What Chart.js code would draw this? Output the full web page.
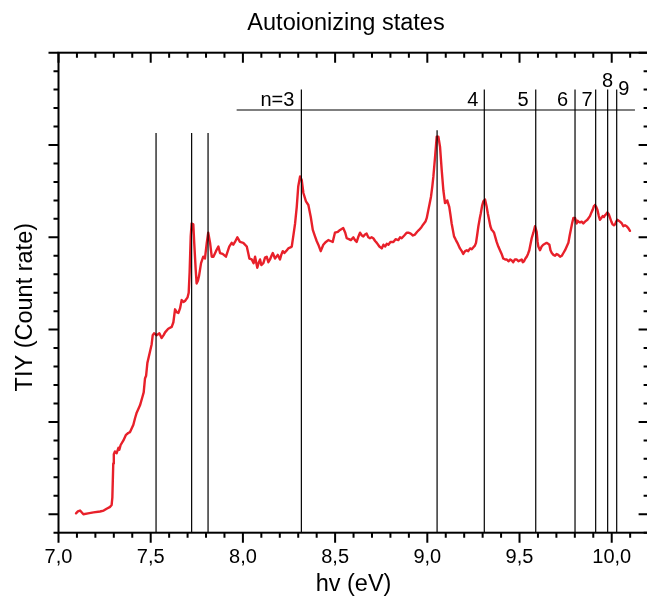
<!DOCTYPE html>
<html><head><meta charset="utf-8">
<script src="https://cdn.jsdelivr.net/npm/chart.js@4.4.0/dist/chart.umd.min.js"></script>
<style>
html,body{margin:0;padding:0;overflow:hidden;background:#fff;width:647px;height:604px}
#wrap{position:absolute;left:0;top:0;width:660px;height:604px}
</style></head>
<body><div id="wrap"><canvas id="c" width="660" height="604"></canvas></div>
<script>
const FONT = '"Liberation Sans", Arial, Helvetica, sans-serif';

// ---- data ----
const photonEnergy = [7.095,7.105,7.117,7.135,7.16,7.19,7.225,7.245,7.261,7.28,7.288,7.292,7.297,7.300,7.306,7.315,7.325,7.33,7.337,7.352,7.366,7.378,7.388,7.406,7.415,7.424,7.442,7.455,7.462,7.469,7.475,7.482,7.496,7.505,7.511,7.518,7.532,7.547,7.559,7.570,7.578,7.595,7.614,7.623,7.632,7.641,7.650,7.659,7.668,7.678,7.686,7.700,7.706,7.711,7.717,7.722,7.731,7.736,7.744,7.749,7.756,7.762,7.773,7.785,7.794,7.804,7.812,7.822,7.831,7.840,7.854,7.867,7.876,7.890,7.908,7.926,7.939,7.948,7.957,7.970,7.984,8.002,8.021,8.030,8.035,8.048,8.058,8.066,8.078,8.085,8.093,8.100,8.111,8.120,8.129,8.138,8.147,8.155,8.162,8.174,8.189,8.201,8.208,8.216,8.225,8.234,8.246,8.258,8.265,8.273,8.283,8.292,8.300,8.310,8.319,8.328,8.342,8.355,8.368,8.379,8.391,8.400,8.409,8.422,8.436,8.450,8.463,8.475,8.487,8.499,8.515,8.527,8.544,8.555,8.563,8.575,8.585,8.599,8.608,8.617,8.625,8.635,8.645,8.653,8.662,8.671,8.680,8.689,8.698,8.707,8.717,8.726,8.740,8.753,8.762,8.771,8.780,8.789,8.800,8.816,8.828,8.843,8.852,8.861,8.875,8.888,8.900,8.910,8.922,8.933,8.945,8.955,8.968,8.978,8.990,8.997,9.006,9.013,9.020,9.027,9.033,9.042,9.051,9.060,9.069,9.078,9.087,9.096,9.102,9.108,9.119,9.125,9.132,9.145,9.155,9.163,9.177,9.187,9.195,9.205,9.214,9.222,9.232,9.241,9.249,9.258,9.264,9.270,9.277,9.284,9.290,9.297,9.304,9.313,9.322,9.328,9.335,9.342,9.349,9.355,9.362,9.369,9.376,9.385,9.394,9.403,9.412,9.422,9.431,9.440,9.450,9.458,9.466,9.475,9.485,9.494,9.503,9.512,9.518,9.524,9.532,9.539,9.546,9.553,9.560,9.566,9.575,9.584,9.593,9.598,9.602,9.611,9.620,9.629,9.638,9.647,9.655,9.662,9.668,9.675,9.684,9.693,9.701,9.710,9.720,9.729,9.738,9.747,9.756,9.765,9.772,9.778,9.785,9.792,9.801,9.810,9.815,9.819,9.828,9.837,9.846,9.855,9.868,9.882,9.890,9.897,9.904,9.909,9.916,9.922,9.930,9.936,9.944,9.951,9.958,9.964,9.970,9.976,9.984,9.991,9.998,10.005,10.012,10.018,10.024,10.030,10.038,10.045,10.055,10.063,10.072,10.081,10.090,10.099];
const tiySignal = [0.01,0.03,0.04,0.00,0.01,0.02,0.03,0.04,0.06,0.08,0.10,0.18,0.55,0.65,0.68,0.66,0.72,0.70,0.75,0.80,0.86,0.88,0.89,0.97,1.04,1.10,1.18,1.27,1.32,1.47,1.50,1.64,1.76,1.84,1.94,1.96,1.94,1.96,1.91,1.94,1.97,2.01,2.03,2.08,2.22,2.19,2.18,2.23,2.32,2.30,2.31,2.35,2.40,2.62,3.01,3.15,3.14,2.94,2.65,2.50,2.53,2.58,2.72,2.79,2.77,2.94,3.05,2.94,2.79,2.79,2.85,2.90,2.83,2.82,2.79,2.90,2.94,2.92,2.95,3.00,2.95,2.94,2.90,2.82,2.77,2.76,2.72,2.79,2.67,2.72,2.76,2.70,2.72,2.78,2.79,2.73,2.76,2.80,2.83,2.77,2.81,2.76,2.81,2.85,2.83,2.85,2.88,2.89,2.90,3.01,3.15,3.33,3.55,3.66,3.62,3.48,3.39,3.35,3.22,3.08,3.01,2.96,2.92,2.85,2.92,2.95,2.97,2.96,2.95,3.05,3.06,3.08,3.10,3.05,2.99,2.98,2.97,3.00,2.97,2.95,3.00,3.05,3.02,3.01,3.03,3.04,3.00,2.99,3.00,2.99,2.96,2.94,2.90,2.88,2.92,2.90,2.93,2.92,2.95,2.95,2.98,2.97,3.00,2.99,3.02,3.05,3.05,3.04,3.02,3.03,3.06,3.08,3.11,3.14,3.17,3.21,3.30,3.37,3.44,3.55,3.66,3.87,4.09,4.09,3.98,3.73,3.51,3.37,3.38,3.40,3.33,3.25,3.15,3.01,2.97,2.94,2.88,2.85,2.82,2.85,2.86,2.85,2.88,2.87,2.89,2.91,2.94,3.02,3.12,3.20,3.26,3.34,3.39,3.41,3.33,3.26,3.19,3.12,3.08,3.07,3.05,3.00,2.95,2.90,2.86,2.82,2.77,2.76,2.76,2.74,2.76,2.75,2.73,2.76,2.76,2.74,2.75,2.76,2.73,2.74,2.77,2.79,2.82,2.86,2.93,2.99,3.05,3.12,3.06,2.95,2.90,2.86,2.90,2.92,2.93,2.94,2.93,2.92,2.86,2.83,2.81,2.80,2.82,2.81,2.79,2.80,2.83,2.86,2.90,2.94,3.02,3.08,3.15,3.21,3.21,3.15,3.18,3.17,3.16,3.17,3.15,3.17,3.19,3.23,3.27,3.30,3.34,3.35,3.33,3.30,3.23,3.19,3.21,3.23,3.22,3.24,3.25,3.27,3.25,3.21,3.17,3.14,3.13,3.14,3.17,3.19,3.18,3.17,3.15,3.12,3.13,3.12,3.10,3.07];

const lowLineEnergies = [7.529, 7.722, 7.811];
const lowLineTop = 4.13;
const peakLineEnergies = [9.053];
const peakLineTop = 4.16;
const rydbergEnergies = [8.317, 9.309, 9.588, 9.801, 9.913, 9.978, 10.027];
const rydbergLabels = ['n=3', '4', '5', '6', '7', '8', '9'];
const rydbergLineTop = 4.60;
const limitLineRange = [7.966, 10.126];
const limitLineLevel = 4.379;

const xTickValues = [7.0, 7.5, 8.0, 8.5, 9.0, 9.5, 10.0];
const xTickLabels = ['7,0', '7,5', '8,0', '8,5', '9,0', '9,5', '10,0'];
const X_MIN = 7.0, X_MAX = 10.2, Y_MIN = -0.2, Y_MAX = 5.0;

// ---- build datasets ----
const curve = photonEnergy.map((e, i) => ({x: e, y: tiySignal[i]}));
const markerPts = [];
function seg(x1, y1, x2, y2) { markerPts.push({x: x1, y: y1}, {x: x2, y: y2}, {x: x2, y: null}); }
lowLineEnergies.forEach(e => seg(e, Y_MIN, e, lowLineTop));
peakLineEnergies.forEach(e => seg(e, Y_MIN, e, peakLineTop));
rydbergEnergies.forEach(e => seg(e, Y_MIN, e, rydbergLineTop));
seg(limitLineRange[0], limitLineLevel, limitLineRange[1], limitLineLevel);

// label placement style (offsets in px relative to the line / level)
const labelStyle = {
  'n=3': {align: 'right', dx: -7, dy: -4},
  '4': {align: 'right', dx: -6, dy: -4},
  '5': {align: 'right', dx: -7, dy: -4},
  '6': {align: 'right', dx: -7, dy: -4},
  '7': {align: 'right', dx: -3, dy: -4},
  '8': {align: 'center', dx: 0, dy: -23},
  '9': {align: 'left', dx: 1.5, dy: -15}
};

const decor = {
  id: 'decor',
  afterDraw(chart) {
    const {ctx, chartArea: a, scales: {x, y}} = chart;
    ctx.save();
    // frame
    ctx.strokeStyle = '#000';
    ctx.lineWidth = 2;
    ctx.strokeRect(a.left, a.top, a.right - a.left, a.bottom - a.top);
    // x ticks (bottom outward, top inward)
    ctx.beginPath();
    for (let k = Math.round(x.min * 10); k <= Math.round(x.max * 10); k++) {
      const px = x.getPixelForValue(k / 10);
      const len = (k % 5 === 0) ? 10 : 5;
      ctx.moveTo(px, a.bottom); ctx.lineTo(px, a.bottom + len);
      ctx.moveTo(px, a.top); ctx.lineTo(px, a.top + len);
    }
    // y ticks (left outward, right inward)
    for (let k = Math.round(y.min * 5); k <= Math.round(y.max * 5); k++) {
      const py = y.getPixelForValue(k / 5);
      const len = (k % 5 === 0) ? 10 : 5;
      ctx.moveTo(a.left, py); ctx.lineTo(a.left - len, py);
      ctx.moveTo(a.right, py); ctx.lineTo(a.right - len, py);
    }
    ctx.stroke();

    // state labels
    ctx.fillStyle = '#000';
    ctx.font = '20px ' + FONT;
    ctx.textBaseline = 'alphabetic';
    const baseY = y.getPixelForValue(limitLineLevel);
    rydbergLabels.forEach((lab, i) => {
      const st = labelStyle[lab];
      ctx.textAlign = st.align;
      ctx.fillText(lab, x.getPixelForValue(rydbergEnergies[i]) + st.dx, baseY + st.dy);
    });

    // chart title
    ctx.font = '23.5px ' + FONT;
    ctx.textAlign = 'center';
    ctx.fillText('Autoionizing states', 346, 30);

    // y-axis title
    ctx.translate(31.5, (a.top + a.bottom) / 2 + 14.5);
    ctx.rotate(-Math.PI / 2);
    ctx.fillText('TIY (Count rate)', 0, 0);
    ctx.restore();
  }
};

Chart.defaults.font.family = FONT;
new Chart(document.getElementById('c'), {
  type: 'line',
  data: {
    datasets: [
      {label: 'states', data: markerPts, borderColor: '#000', borderWidth: 1.2, pointRadius: 0, spanGaps: false, tension: 0, fill: false},
      {label: 'TIY', data: curve, borderColor: '#e8202a', borderWidth: 2.4, borderJoinStyle: 'round', borderCapStyle: 'round', pointRadius: 0, tension: 0, fill: false}
    ]
  },
  options: {
    responsive: false,
    animation: false,
    devicePixelRatio: 1,
    parsing: true,
    layout: {padding: {left: 58.5, top: 52.7, right: 660 - 648.6, bottom: 0}},
    plugins: {legend: {display: false}, tooltip: {enabled: false}, title: {display: false}},
    scales: {
      x: {
        type: 'linear', min: X_MIN, max: X_MAX,
        grid: {display: false, drawTicks: false},
        border: {display: false},
        afterBuildTicks: s => { s.ticks = xTickValues.map(v => ({value: v})); },
        ticks: {autoSkip: false, maxRotation: 0, minRotation: 0, padding: 13, color: '#000',
                font: {family: FONT, size: 20}, callback: (v, i) => xTickLabels[i]},
        title: {display: true, text: 'hv (eV)', color: '#000', font: {family: FONT, size: 23.5}, padding: {top: 0, bottom: 5}},
        afterFit: s => { s.height = 604 - 532.7; }
      },
      y: {type: 'linear', min: Y_MIN, max: Y_MAX, display: false}
    }
  },
  plugins: [decor]
});
</script>
</body></html>
